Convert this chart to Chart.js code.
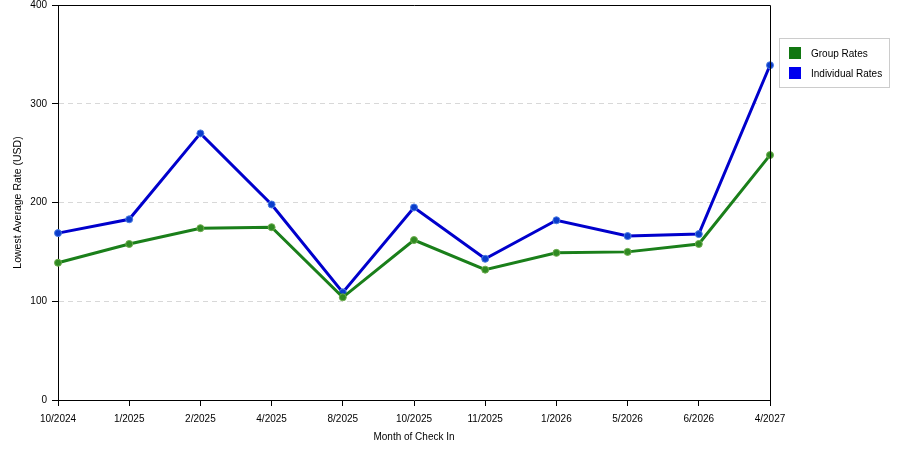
<!DOCTYPE html>
<html>
<head>
<meta charset="utf-8">
<script src="https://cdn.jsdelivr.net/npm/chart.js@4.4.1/dist/chart.umd.min.js"></script>
<style>
html,body{margin:0;padding:0;background:#fff;}
#wrap{position:relative;width:900px;height:450px;}
</style>
</head>
<body>
<div id="wrap"><canvas id="c" width="900" height="450"></canvas></div>
<script>
const categories = ["10/2024","1/2025","2/2025","4/2025","8/2025","10/2025","11/2025","1/2026","5/2026","6/2026","4/2027"];
const groupRates = [139, 158, 174, 175, 104, 162, 132, 149, 150, 158, 248];
const individualRates = [169, 183, 270, 198, 109, 195, 143, 182, 166, 168, 339];
const yTicks = [0, 100, 200, 300, 400];
const seriesNames = ["Group Rates", "Individual Rates"];

const FONT = "'Liberation Sans', Arial, sans-serif";

const framePlugin = {
  id: 'frame',
  afterDraw(chart) {
    const {ctx, chartArea: a} = chart;
    ctx.save();
    ctx.strokeStyle = '#000';
    ctx.lineWidth = 1;
    ctx.beginPath();
    ctx.moveTo(a.left, a.top + 0.5);
    ctx.lineTo(a.right + 0.5, a.top + 0.5);
    ctx.lineTo(a.right + 0.5, a.bottom);
    ctx.stroke();
    // legend
    const lx = 779.5, ly = 38.5, lw = 110, lh = 49;
    ctx.strokeStyle = '#cccccc';
    ctx.fillStyle = '#fff';
    ctx.fillRect(lx, ly, lw, lh);
    ctx.strokeRect(lx, ly, lw, lh);
    ctx.font = '10px ' + FONT;
    ctx.textBaseline = 'middle';
    chart.data.datasets.forEach((ds, i) => {
      const y = 53 + i * 20;
      ctx.fillStyle = ds.legendColor;
      ctx.fillRect(789, y - 6, 12, 12);
      ctx.fillStyle = '#000';
      ctx.fillText(ds.label, 811, y + 1);
    });
    ctx.restore();
  }
};

new Chart(document.getElementById('c'), {
  type: 'line',
  data: {
    labels: categories,
    datasets: [
      {
        label: seriesNames[0],
        data: groupRates,
        borderColor: '#1a7f1a',
        borderWidth: 3,
        pointRadius: 3.5,
        pointBackgroundColor: '#2f8a22',
        pointBorderColor: '#6cab4c',
        pointBorderWidth: 1,
        legendColor: '#117711',
        tension: 0
      },
      {
        label: seriesNames[1],
        data: individualRates,
        borderColor: '#0000cc',
        borderWidth: 3,
        pointRadius: 3.5,
        pointBackgroundColor: '#0a3ccc',
        pointBorderColor: '#4a7be0',
        pointBorderWidth: 1,
        legendColor: '#0000ee',
        tension: 0
      }
    ]
  },
  options: {
    responsive: false,
    animation: false,
    events: [],
    layout: {padding: {left: 0, right: 130, top: 5, bottom: 0}},
    plugins: {legend: {display: false}, tooltip: {enabled: false}},
    scales: {
      x: {
        type: 'category',
        offset: false,
        afterFit(s) { s.height = 50; s.paddingRight = 0; s.paddingLeft = 0; },
        grid: {drawOnChartArea: false, drawTicks: true, tickLength: 6, tickColor: '#000'},
        border: {display: true, color: '#000', width: 1},
        ticks: {color: '#000', font: {family: FONT, size: 10}, padding: 7, maxRotation: 0, autoSkip: false},
        title: {display: true, text: 'Month of Check In', color: '#000', font: {family: FONT, size: 10}, padding: {top: 4, bottom: 7}}
      },
      y: {
        min: 0, max: 400,
        afterFit(s) { s.width = 58; s.paddingTop = 0; s.paddingBottom = 0; },
        afterBuildTicks(s) { s.ticks = yTicks.map(v => ({value: v})); },
        grid: {
          drawTicks: true, tickLength: 6, tickColor: '#000',
          color: ctx => (ctx.tick && (ctx.tick.value === 0 || ctx.tick.value === 400)) ? 'rgba(0,0,0,0)' : '#d8d8d8',
          lineWidth: 1
        },
        border: {display: true, color: '#000', width: 1, dash: [5, 4]},
        ticks: {color: '#000', font: {family: FONT, size: 10}, padding: 5},
        title: {display: true, text: 'Lowest Average Rate (USD)', color: '#000', font: {family: FONT, size: 10.5}, padding: {top: 12, bottom: 0}}
      }
    }
  },
  plugins: [framePlugin]
});
</script>
</body>
</html>
